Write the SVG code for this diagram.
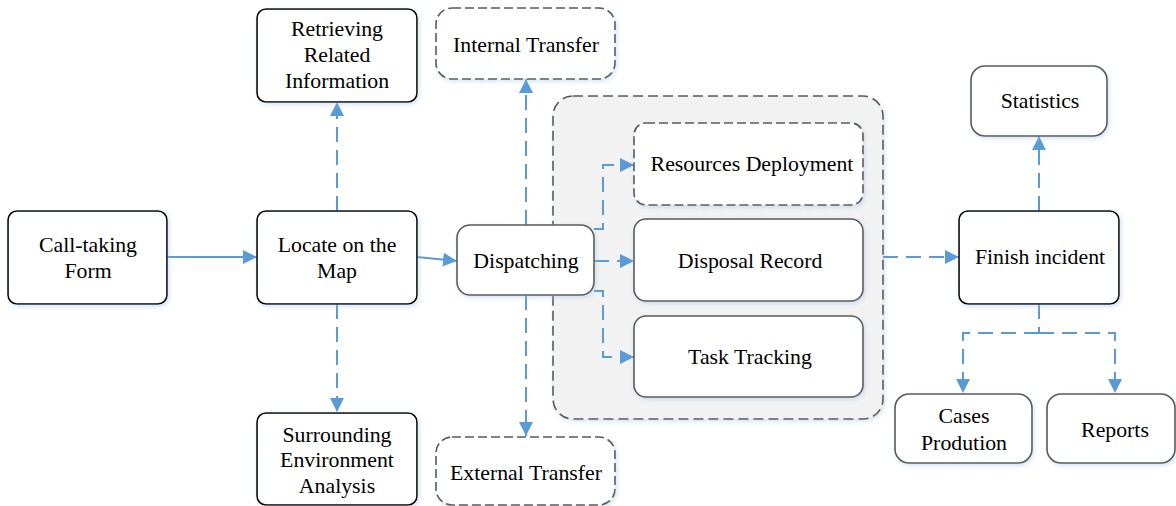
<svg xmlns="http://www.w3.org/2000/svg" width="1176" height="506" viewBox="0 0 1176 506">
<defs>
<filter id="sh" x="-10%" y="-10%" width="130%" height="130%">
<feDropShadow dx="1.5" dy="2" stdDeviation="2" flood-color="#9dc3e6" flood-opacity="0.45"/>
</filter>
<marker id="ah" markerUnits="userSpaceOnUse" markerWidth="15" markerHeight="15" refX="14" refY="7" orient="auto">
<path d="M0,0 L14,7 L0,14 z" fill="#5b9bd5"/>
</marker>
</defs>
<style>
text{font-family:"Liberation Serif","Times New Roman",serif;font-size:21.8px;fill:#000;text-anchor:middle}
.b{fill:#fff;stroke:#000;stroke-width:1.6;filter:url(#sh)}
.g{fill:#fff;stroke:#595959;stroke-width:1.6;filter:url(#sh)}
.d{fill:#fff;stroke:#595959;stroke-width:1.6;stroke-dasharray:9 4;filter:url(#sh)}
.grp{fill:#f2f2f2;stroke:#595959;stroke-width:1.6;stroke-dasharray:10 5;filter:url(#sh)}
.c{fill:none;stroke:#5b9bd5;stroke-width:2}
.cd{fill:none;stroke:#5b9bd5;stroke-width:2;stroke-dasharray:15 8}
.a{marker-end:url(#ah)}
</style>
<rect width="1176" height="506" fill="#fff"/>
<g id="group-box"><rect class="grp" x="553" y="96" width="330" height="323" rx="20"/></g>
<g id="connectors">
<path class="c a" d="M167,257 L257,257"/>
<path class="c a" d="M417,257 L457,261"/>
<path class="cd a" d="M337,211 L337,102"/>
<path class="cd a" d="M337,304 L337,412"/>
<path class="cd a" d="M526,225 L526,79"/>
<path class="cd a" d="M526,295 L526,436"/>
<path class="cd a" d="M594,229 L603,229 L603,165 L634,165"/>
<path class="cd a" d="M594,261 L634,261"/>
<path class="cd a" d="M594,291 L603,291 L603,357 L634,357"/>
<path class="cd a" d="M883,257 L959,257"/>
<path class="cd a" d="M1039,211 L1039,136"/>
<path class="cd" d="M1039,304 L1039,333"/>
<path class="cd a" d="M1039,333 L963,333 L963,393"/>
<path class="cd a" d="M1039,333 L1115,333 L1115,393"/>
</g>
<g id="call-taking"><rect class="b" x="8" y="211" width="159" height="93" rx="9"/><text x="88" y="252">Call-taking</text><text x="88" y="278">Form</text></g>
<g id="locate"><rect class="b" x="257" y="211" width="160" height="93" rx="9"/><text x="337" y="252">Locate on the</text><text x="337" y="278">Map</text></g>
<g id="retrieving"><rect class="b" x="257" y="9" width="160" height="93" rx="9"/><text x="337" y="36">Retrieving</text><text x="337" y="62">Related</text><text x="337" y="88">Information</text></g>
<g id="surrounding"><rect class="b" x="257" y="413" width="160" height="92" rx="9"/><text x="337" y="442">Surrounding</text><text x="337" y="467">Environment</text><text x="337" y="493">Analysis</text></g>
<g id="dispatching"><rect class="g" x="457" y="225" width="137" height="70" rx="13"/><text x="526" y="268">Dispatching</text></g>
<g id="internal-transfer"><rect class="d" x="436" y="8" width="179" height="71" rx="16"/><text x="526" y="52">Internal Transfer</text></g>
<g id="external-transfer"><rect class="d" x="436" y="437" width="179" height="68" rx="16"/><text x="526" y="480">External Transfer</text></g>
<g id="resources"><rect class="d" x="634" y="123" width="229" height="82" rx="12"/><text x="752" y="171">Resources Deployment</text></g>
<g id="disposal"><rect class="g" x="634" y="219" width="229" height="82" rx="12"/><text x="750" y="268">Disposal Record</text></g>
<g id="task-tracking"><rect class="g" x="634" y="316" width="229" height="81" rx="12"/><text x="750" y="364">Task Tracking</text></g>
<g id="finish"><rect class="b" x="959" y="211" width="160" height="93" rx="9"/><text x="1040" y="264">Finish incident</text></g>
<g id="statistics"><rect class="g" x="971" y="66" width="136" height="70" rx="14"/><text x="1040" y="108">Statistics</text></g>
<g id="cases"><rect class="g" x="895" y="394" width="137" height="69" rx="14"/><text x="964" y="423">Cases</text><text x="964" y="450">Prodution</text></g>
<g id="reports"><rect class="g" x="1047" y="394" width="128" height="69" rx="14"/><text x="1115" y="437">Reports</text></g>
</svg>
